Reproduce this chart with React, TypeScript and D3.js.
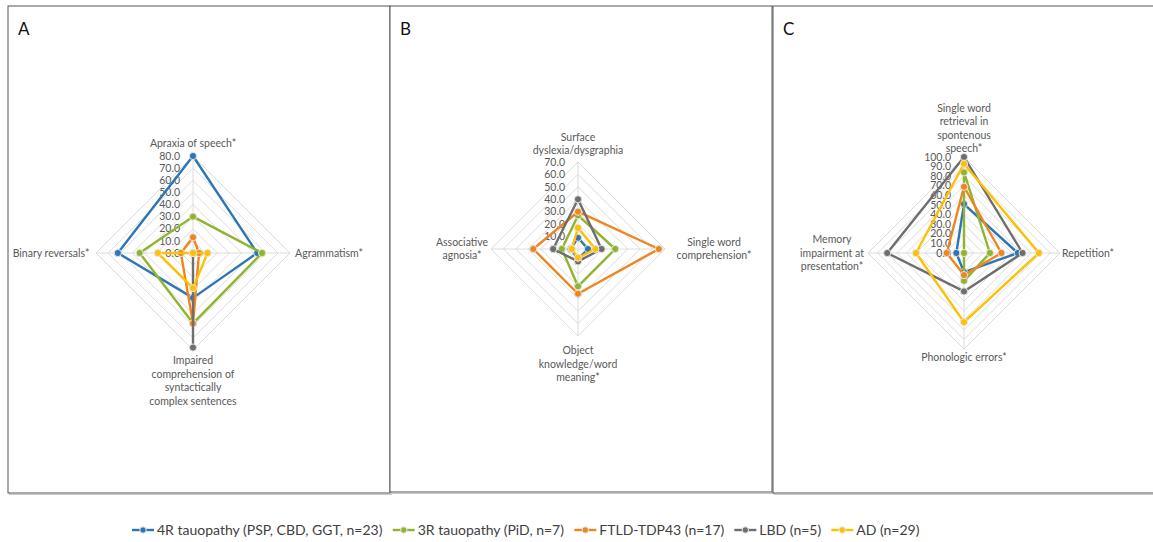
import React from 'react';
import * as d3 from 'd3';

// series (same order in every panel)
const seriesNames = [
  '4R tauopathy (PSP, CBD, GGT, n=23)',
  '3R tauopathy (PiD, n=7)',
  'FTLD-TDP43 (n=17)',
  'LBD (n=5)',
  'AD (n=29)',
];
const seriesColors = ['#2E75B6', '#8FB52F', '#F0851F', '#6E6E6E', '#FFC000'];

// panel A
const axesA = [
  ['Apraxia of speech*'],
  ['Agrammatism*'],
  ['Impaired', 'comprehension of', 'syntactically', 'complex sentences'],
  ['Binary reversals*'],
];
const valuesA = [
  [80, 53, 37, 62],
  [30, 57, 58, 44],
  [13, 5, 58, 10],
  [0, 0, 78, 0],
  [0, 12, 29, 29],
];
const ticksA = [0, 10, 20, 30, 40, 50, 60, 70, 80];

// panel B
const axesB = [
  ['Surface', 'dyslexia/dysgraphia'],
  ['Single word', 'comprehension*'],
  ['Object', 'knowledge/word', 'meaning*'],
  ['Associative', 'agnosia*'],
];
const valuesB = [
  [9, 8, 8, 6],
  [27, 30, 30, 13],
  [30, 65, 36, 36],
  [40, 19, 10, 20],
  [17, 14, 7, 5],
];
const ticksB = [0, 10, 20, 30, 40, 50, 60, 70];

// panel C
const axesC = [
  ['Single word', 'retrieval in', 'spontenous', 'speech*'],
  ['Repetition*'],
  ['Phonologic errors*'],
  ['Memory', 'impairment at', 'presentation*'],
];
const valuesC = [
  [51, 56, 20, 8],
  [84, 27, 29, 0],
  [69, 39, 23, 18],
  [100, 61, 40, 80],
  [93, 78, 72, 50],
];
const ticksC = [0, 10, 20, 30, 40, 50, 60, 70, 80, 90, 100];

const FONT = 'Lato, "Open Sans", sans-serif';
const TEXT = '#595959';
const LINE_H = 13.5;

type PanelProps = {
  letter: string;
  box: [number, number, number, number];
  cx: number;
  cy: number;
  R: number;
  ticks: number[];
  axes: string[][];
  values: number[][];
  pads: number[]; // label distance beyond outer ring: top, right, bottom, left
};

function Radar({ letter, box, cx, cy, R, ticks, axes, values, pads }: PanelProps) {
  const max = ticks[ticks.length - 1];
  const r = d3.scaleLinear().domain([0, max]).range([0, R]);
  const angle = (i: number) => (i * 2 * Math.PI) / axes.length;
  const radial = d3
    .lineRadial<number>()
    .angle((_, i) => angle(i))
    .radius((d) => r(d))
    .curve(d3.curveLinearClosed);
  const pt = (v: number, i: number) => [r(v) * Math.sin(angle(i)), -r(v) * Math.cos(angle(i))];
  const [bx, by, bw, bh] = box;

  return (
    <g>
      <rect x={bx + 1.5} y={by + 1.5} width={bw} height={bh} fill="none" stroke="#c8c8c8" strokeWidth={1} />
      <rect x={bx} y={by} width={bw} height={bh} fill="#fff" stroke="#555" strokeWidth={1} />
      <text x={bx + 10} y={by + 29} fontFamily={FONT} fontSize={17} fill="#111">{letter}</text>
      <g transform={`translate(${cx},${cy})`}>
        {ticks.slice(1).map((t) => (
          <path key={t} d={radial(axes.map(() => t)) || ''} fill="none" stroke="#dcdcdc" strokeWidth={1} />
        ))}
        {axes.map((_, i) => {
          const [x, y] = pt(max, i);
          return <line key={i} x1={0} y1={0} x2={x} y2={y} stroke="#dcdcdc" strokeWidth={1} />;
        })}
        {ticks.map((t) => (
          <text key={t} x={-13} y={-r(t)} dy="0.35em" textAnchor="end" fontFamily={FONT} fontSize={10.5} fill={TEXT}>
            {t.toFixed(1)}
          </text>
        ))}
        {values.map((vals, s) => (
          <g key={s}>
            <path d={radial(vals) || ''} fill="none" stroke={seriesColors[s]} strokeWidth={2.4} strokeLinejoin="round" />
            {vals.map((v, i) => {
              const [x, y] = pt(v, i);
              return <circle key={i} cx={x} cy={y} r={3.6} fill={seriesColors[s]} stroke="#e6e6e6" strokeWidth={1} />;
            })}
          </g>
        ))}
        {axes.map((lines, i) => {
          const n = lines.length;
          let x0 = 0;
          let y0 = 0;
          if (i === 0) {
            y0 = -R - pads[0] - (n - 1) * LINE_H;
          } else if (i === 2) {
            y0 = R + pads[2];
          } else {
            x0 = i === 1 ? R + pads[1] : -R - pads[3];
            y0 = -((n - 1) * LINE_H) / 2 + 3.5;
          }
          return (
            <text key={i} textAnchor="middle" fontFamily={FONT} fontSize={10.5} fill={TEXT}>
              {lines.map((l, k) => (
                <tspan key={k} x={x0} y={y0 + k * LINE_H}>{l}</tspan>
              ))}
            </text>
          );
        })}
      </g>
    </g>
  );
}

function Legend() {
  const ctx = React.useMemo(() => {
    const c = document.createElement('canvas').getContext('2d')!;
    c.font = `14px ${FONT}`;
    return c;
  }, []);
  let x = 132;
  const y = 530;
  return (
    <g>
      {seriesNames.map((name, i) => {
        const w = ctx.measureText(name).width;
        const x0 = x;
        x += 22 + 3 + w + 10;
        return (
          <g key={name}>
            <line x1={x0} x2={x0 + 22} y1={y} y2={y} stroke={seriesColors[i]} strokeWidth={2.4} />
            <circle cx={x0 + 11} cy={y} r={3.2} fill={seriesColors[i]} stroke="#e6e6e6" strokeWidth={1} />
            <text x={x0 + 25} y={y} dy="0.35em" fontFamily={FONT} fontSize={14} fill="#404040">{name}</text>
          </g>
        );
      })}
    </g>
  );
}

export default function App() {
  return (
    <svg width={1153} height={542} style={{ position: 'absolute', left: 0, top: 0, background: '#fff' }}>
      <Radar letter="A" box={[8, 6, 382, 487]} cx={193} cy={253} R={97} ticks={ticksA} axes={axesA} values={valuesA} pads={[9, 39, 14, 45]} />
      <Radar letter="B" box={[390, 6, 382, 486]} cx={578} cy={249} R={87} ticks={ticksB} axes={axesB} values={valuesB} pads={[8, 49, 18, 29]} />
      <Radar letter="C" box={[773, 6, 385, 487]} cx={964} cy={253} R={96} ticks={ticksC} axes={axesC} values={valuesC} pads={[5, 28, 12, 36]} />
      <Legend />
    </svg>
  );
}
